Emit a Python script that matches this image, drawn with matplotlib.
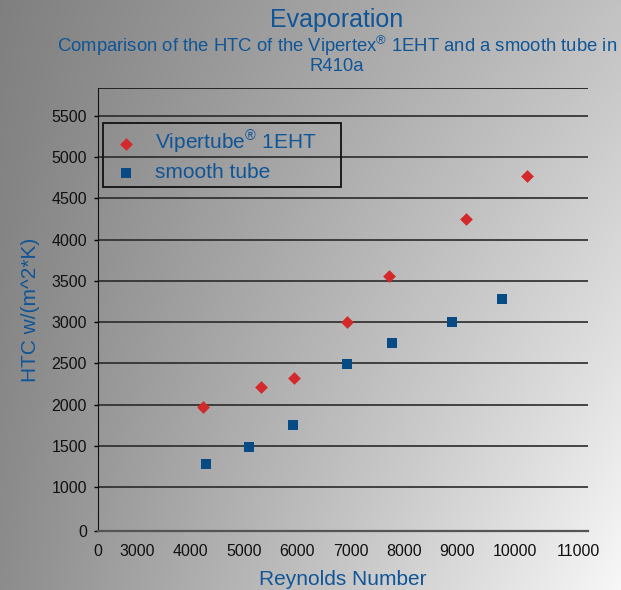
import numpy as np
import matplotlib
matplotlib.use("Agg")
import matplotlib.pyplot as plt
from matplotlib.patches import Rectangle

plt.rcParams['font.family'] = ['Liberation Sans', 'DejaVu Sans']
plt.rcParams['mathtext.fontset'] = 'custom'
plt.rcParams['mathtext.rm'] = 'Liberation Sans'
plt.rcParams['mathtext.it'] = 'Liberation Sans'

# ---- data ----
title = "Evaporation"
subtitle = "Comparison of the HTC of the Vipertex$^{\\mathrm{®}}$ 1EHT and a smooth tube in\nR410a"
series_names = ["Vipertube$^{\\mathrm{®}}$ 1EHT", "smooth tube"]
vipertube_re = [4234, 5317, 5942, 6927, 7718, 9157, 10301]
vipertube_htc = [1973, 2220, 2328, 3007, 3555, 4249, 4768]
smooth_re = [4291, 5097, 5923, 6936, 7774, 8894, 9844]
smooth_htc = [1278, 1483, 1749, 2489, 2743, 3005, 3286]
x_tick_labels = ["0", "3000", "4000", "5000", "6000", "7000", "8000", "9000", "10000", "11000"]
y_tick_labels = ["0", "1000", "1500", "2000", "2500", "3000", "3500", "4000", "4500", "5000", "5500"]
x_label = "Reynolds Number"
y_label = "HTC w/(m^2*K)"

# ---- layout (positions of the labels as printed in the source image) ----
x_tick_pos = [2259, 3000, 4000, 5000, 6000, 7000, 8000, 9000, 10082, 11264]
y_tick_pos = [471, 1000, 1500, 2000, 2500, 3000, 3500, 4000, 4500, 5000, 5500]
xlim = (2259, 11451)
ylim = (471, 5832)

text_blue = "#0f5597"
red = "#d3292b"
blue = "#084a83"

W, H = 621, 590
fig = plt.figure(figsize=(6.21, 5.90), dpi=100)

# gradient background
bg = fig.add_axes([0, 0, 1, 1])
bg.set_axis_off()
xx, yy = np.meshgrid(np.linspace(0, 1, 300), np.linspace(0, 1, 300))
tl, tr, bl, br = 0.50, 0.76, 0.55, 0.97
vals = tl * (1 - xx) * (1 - yy) + tr * xx * (1 - yy) + bl * (1 - xx) * yy + br * xx * yy
bg.imshow(np.dstack([vals, vals, vals]), aspect='auto',
          extent=[0, 1, 1, 0], interpolation='bilinear')
bg.set_xlim(0, 1)
bg.set_ylim(1, 0)

ax_l, ax_r, ax_t, ax_b = 98, 588, 88.3, 531
ax = fig.add_axes([ax_l / W, (H - ax_b) / H, (ax_r - ax_l) / W, (ax_b - ax_t) / H])
ax.patch.set_alpha(0)

for y in y_tick_pos[1:]:
    ax.axhline(y, color="#2a2a2a", lw=1.2, zorder=1)
ax.axhline(ylim[1], color="#111111", lw=1.2, zorder=1)

ax.scatter(vipertube_re, vipertube_htc, marker='D', s=6.5 ** 2, color=red,
           label=series_names[0], zorder=3, linewidths=0)
ax.scatter(smooth_re, smooth_htc, marker='s', s=6.7 ** 2, color=blue,
           label=series_names[1], zorder=3, linewidths=0)

ax.set_xlim(*xlim)
ax.set_ylim(*ylim)
ax.set_xticks(x_tick_pos)
ax.set_xticklabels(x_tick_labels, fontsize=11.5, color="#111111")
ax.set_yticks(y_tick_pos)
ax.set_yticklabels(y_tick_labels, fontsize=11.5, color="#111111")
ax.tick_params(axis='x', length=0, pad=9)
ax.tick_params(axis='y', length=3, width=1, pad=5)

ax.spines['right'].set_visible(False)
ax.spines['top'].set_visible(False)
ax.spines['left'].set_color("#111111")
ax.spines['bottom'].set_color("#555555")
ax.spines['bottom'].set_linewidth(1.6)

ax.set_xlabel(x_label, fontsize=15, color=text_blue, labelpad=8)
ax.set_ylabel(y_label, fontsize=15, color=text_blue, labelpad=8)

# legend box (drawn in figure pixel coords)
bx0, bx1, by0, by1 = 102.7, 340.7, 123.3, 187.3
fig.patches.append(Rectangle((bx0 / W, 1 - by1 / H), (bx1 - bx0) / W, (by1 - by0) / H,
                             transform=fig.transFigure, fill=False,
                             edgecolor="#111111", linewidth=1.3, zorder=5))
leg = ax.legend(loc='upper left', bbox_to_anchor=((bx0 - ax_l) / (ax_r - ax_l),
                                                   (ax_b - by0) / (ax_b - ax_t)),
                fontsize=15, frameon=False, borderpad=0.25,
                handletextpad=0.5, labelspacing=0.36, handlelength=1.78,
                borderaxespad=0)
for t in leg.get_texts():
    t.set_color(text_blue)

fig.text(337 / W, 1 - 20 / H, title, ha='center', va='center', fontsize=18, color=text_blue)
fig.text(337 / W, 1 - 54 / H, subtitle, ha='center', va='center', fontsize=13.3,
         color=text_blue, linespacing=1.0)

fig.savefig("out.png", dpi=100)
